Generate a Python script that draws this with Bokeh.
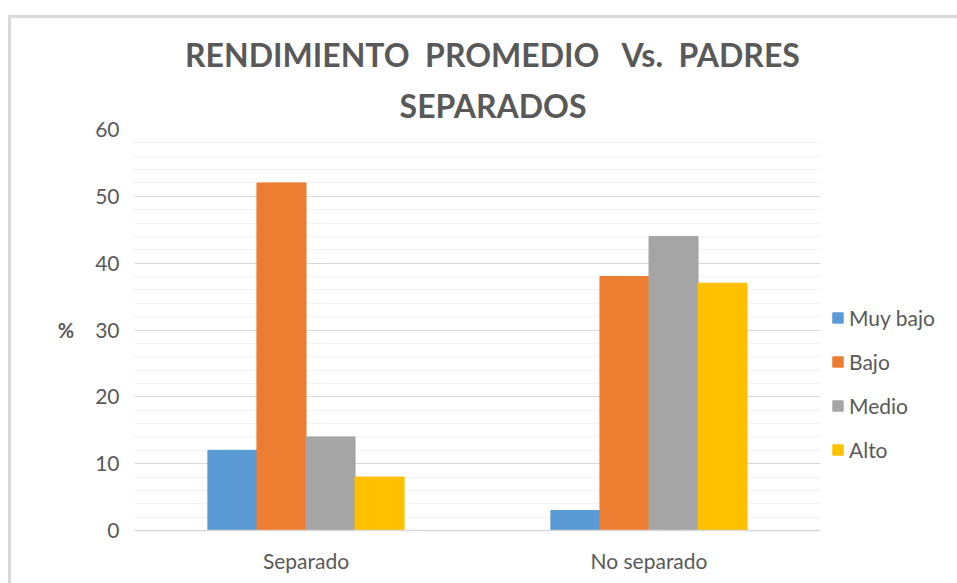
from bokeh.plotting import figure
from bokeh.models import FactorRange, Legend, LegendItem, Title, SingleIntervalTicker
from bokeh.transform import dodge
from bokeh.embed import file_html
from bokeh.resources import INLINE
from bokeh.models import ColumnDataSource

categories = ["Separado", "No separado"]
series = ["Muy bajo", "Bajo", "Medio", "Alto"]
muy_bajo = [12, 3]
bajo = [52, 38]
medio = [14, 44]
alto = [8, 37]
colors = ["#5B9BD5", "#ED7D31", "#A5A5A5", "#FFC000"]

FONT = "Lato"
TXT = "#595959"
NB = "\u00a0"

source = ColumnDataSource(dict(cat=categories, muy_bajo=muy_bajo, bajo=bajo, medio=medio, alto=alto))

p = figure(x_range=FactorRange(*categories), y_range=(0, 60),
           frame_width=686, frame_height=401,
           output_backend="svg", toolbar_location=None,
           min_border_left=123, min_border_right=137, min_border_top=111, min_border_bottom=53)
p.styles = {"margin-top": "15px", "margin-left": "8px",
            "border-top": "3px solid #D9D9D9", "border-left": "3px solid #D9D9D9"}

w = 0.143
keys = ["muy_bajo", "bajo", "medio", "alto"]
renderers = []
for i, k in enumerate(keys):
    r = p.vbar(x=dodge("cat", (i - 1.5) * w, range=p.x_range), top=k, width=w,
               source=source, color=colors[i], line_color=colors[i])
    renderers.append(r)

lead = NB * 4
title1 = lead + "RENDIMIENTO" + NB + " PROMEDIO" + NB + NB + " Vs." + NB + " PADRES"
p.title.text = title1
p.title.align = "center"
p.title.text_font = FONT
p.title.text_font_size = "32px"
p.title.text_color = TXT
t2 = Title(text=lead + "SEPARADOS", align="center", text_font=FONT,
           text_font_size="32px", text_color=TXT, standoff=10)
p.add_layout(t2, "above")

p.yaxis.ticker = SingleIntervalTicker(interval=10, num_minor_ticks=5)
p.ygrid.ticker = SingleIntervalTicker(interval=10, num_minor_ticks=5)
p.ygrid.grid_line_color = "#D9D9D9"
p.ygrid.minor_grid_line_color = "#F2F2F2"
p.xgrid.grid_line_color = None
p.outline_line_color = None

for ax in (p.xaxis, p.yaxis):
    ax.major_label_text_font = FONT
    ax.major_label_text_color = TXT
    ax.major_label_text_font_size = "21px"
    ax.major_tick_line_color = None
    ax.minor_tick_line_color = None
p.yaxis.axis_line_color = None
p.xaxis.axis_line_color = "#D9D9D9"
p.xaxis.axis_line_width = 1.5
p.yaxis.major_label_standoff = 9
p.xaxis.major_label_standoff = 11

p.yaxis.axis_label = "%"
p.yaxis.axis_label_orientation = "horizontal"
p.yaxis.axis_label_text_font = FONT
p.yaxis.axis_label_text_font_style = "bold"
p.yaxis.axis_label_text_font_size = "20px"
p.yaxis.axis_label_text_color = TXT
p.yaxis.axis_label_standoff = 18

legend = Legend(items=[LegendItem(label=s, renderers=[renderers[i]]) for i, s in enumerate(series)],
                location="top_left", label_text_font=FONT, label_text_font_size="21px",
                label_text_color=TXT, glyph_width=13, glyph_height=13, spacing=19,
                title=NB, title_text_font_size="10px", title_standoff=154,
                border_line_color=None, background_fill_alpha=0, padding=0, margin=11)
p.add_layout(legend, "right")

open("out.html", "w").write(file_html(p, INLINE))
